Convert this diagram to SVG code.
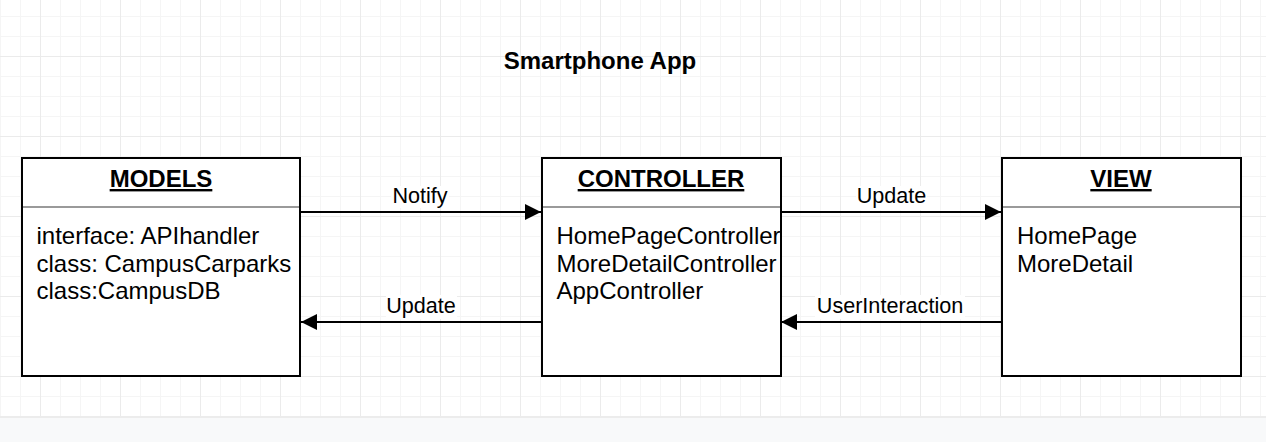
<svg xmlns="http://www.w3.org/2000/svg" width="1266" height="442" viewBox="0 0 1266 442">
  <defs>
    <pattern id="grid" patternUnits="userSpaceOnUse" x="40" y="56" width="80" height="80">
      <path d="M20.5 0V80M40.5 0V80M60.5 0V80M0 20.5H80M0 40.5H80M0 60.5H80" stroke="#f5f5f5" stroke-width="1" fill="none"/>
      <path d="M0.5 0V80M0 0.5H80" stroke="#ebebeb" stroke-width="1" fill="none"/>
    </pattern>
    <marker id="arrow" viewBox="0 0 16 16" refX="16" refY="8" markerWidth="16" markerHeight="16" markerUnits="userSpaceOnUse" orient="auto">
      <path d="M0 0L16 8L0 16Z" fill="#000"/>
    </marker>
  </defs>
  <style>
    text { font-family: "Liberation Sans", Arial, Helvetica, sans-serif; fill: #000; }
    .title { font-size: 24px; font-weight: bold; text-anchor: middle; }
    .head { font-size: 24px; font-weight: bold; text-anchor: middle; text-decoration: underline; }
    .body { font-size: 24px; }
    .label { font-size: 21.6px; text-anchor: middle; }
    .box { fill: #fff; stroke: #000; stroke-width: 2; }
    .sep { stroke: #9a9a9a; stroke-width: 2; }
    .edge { stroke: #000; stroke-width: 2; fill: none; marker-end: url(#arrow); }
    .lblbg { fill: #fff; }
  </style>

  <rect x="0" y="0" width="1266" height="442" fill="#fff"/>
  <rect x="0" y="0" width="1266" height="416" fill="url(#grid)"/>
  <rect x="0" y="416" width="1266" height="26" fill="#f8f9fa"/>
  <rect x="0" y="416" width="1266" height="2" fill="#ececec"/>

  <g id="title">
    <text class="title" x="600" y="69">Smartphone App</text>
  </g>

  <g id="models">
    <rect class="box" x="22" y="158" width="278" height="218"/>
    <line class="sep" x1="23" y1="207" x2="299" y2="207"/>
    <text class="head" x="161" y="187">MODELS</text>
    <text class="body" x="36.5" y="244">interface: APIhandler</text>
    <text class="body" x="36.5" y="271.5">class: CampusCarparks</text>
    <text class="body" x="36.5" y="299">class:CampusDB</text>
  </g>

  <g id="controller">
    <rect class="box" x="542" y="158" width="239" height="218"/>
    <text class="body" x="556.5" y="244">HomePageController</text>
    <text class="body" x="556.5" y="271.5">MoreDetailController</text>
    <text class="body" x="556.5" y="299">AppController</text>
    <rect x="542" y="158" width="239" height="218" fill="none" stroke="#000" stroke-width="2"/>
    <line class="sep" x1="543" y1="207" x2="780" y2="207"/>
    <text class="head" x="661" y="187">CONTROLLER</text>
  </g>

  <g id="view">
    <rect class="box" x="1002" y="158" width="239" height="218"/>
    <line class="sep" x1="1003" y1="207" x2="1240" y2="207"/>
    <text class="head" x="1121" y="187">VIEW</text>
    <text class="body" x="1017" y="244">HomePage</text>
    <text class="body" x="1017" y="271.5">MoreDetail</text>
  </g>

  <g id="connectors">
    <line class="edge" x1="301" y1="212" x2="541" y2="212"/>
    <rect class="lblbg" x="391" y="186" width="58" height="22"/>
    <text class="label" x="420" y="203">Notify</text>

    <line class="edge" x1="541" y1="322" x2="301" y2="322"/>
    <rect class="lblbg" x="386" y="295" width="71" height="24"/>
    <text class="label" x="421" y="313">Update</text>

    <line class="edge" x1="781" y1="212" x2="1001" y2="212"/>
    <rect class="lblbg" x="856" y="186" width="71" height="24"/>
    <text class="label" x="891.5" y="203">Update</text>

    <line class="edge" x1="1001" y1="322" x2="781" y2="322"/>
    <rect class="lblbg" x="815" y="295" width="150" height="24"/>
    <text class="label" x="890" y="313">UserInteraction</text>
  </g>
</svg>
